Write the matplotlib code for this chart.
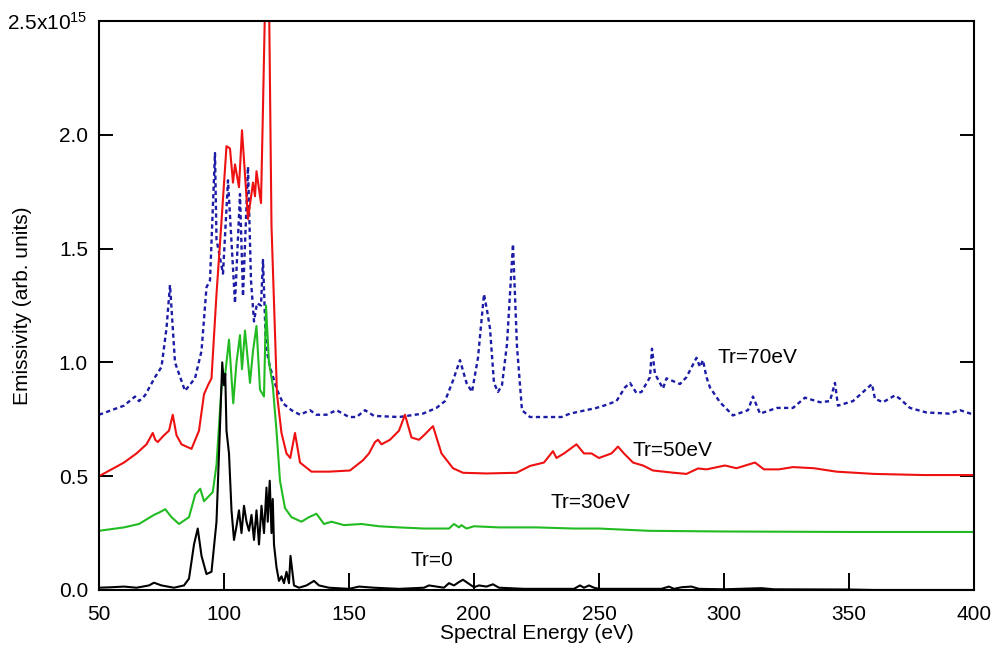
import matplotlib
matplotlib.use("Agg")
import matplotlib.pyplot as plt

plt.rcParams["font.family"] = ["Liberation Sans", "DejaVu Sans"]
plt.rcParams["mathtext.fontset"] = "custom"
plt.rcParams["mathtext.rm"] = "Liberation Sans"
plt.rcParams["mathtext.default"] = "regular"

# emissivity in units of 1e15 (arb. units), energy in eV

tr0_e = [50, 55, 60, 65, 70, 72, 75, 80, 84, 86, 88, 89.5, 91, 93, 95, 97, 98.5, 99.3,
         100, 100.5, 101, 102, 103, 104, 105, 106, 107, 108, 109, 110, 111, 112, 113,
         114, 115, 116, 117, 117.5, 118.3, 119, 119.5, 120, 121, 122, 123, 124, 125,
         126, 126.6, 128, 130, 133, 136, 138, 142, 150, 154, 160, 170, 180, 182, 185,
         188, 190, 192, 194, 195.6, 197.6, 200, 202, 205, 207.6, 210, 220, 240, 242.4,
         244, 246, 248, 250, 260, 275, 278, 280, 283, 287, 290, 300, 315, 320, 350,
         360, 380, 400]
tr0_y = [0.01, 0.012, 0.015, 0.01, 0.02, 0.032, 0.02, 0.01, 0.02, 0.05, 0.2, 0.27, 0.15,
         0.07, 0.08, 0.3, 0.75, 1.0, 0.9, 0.95, 0.7, 0.6, 0.35, 0.22, 0.28, 0.35, 0.25,
         0.37, 0.3, 0.26, 0.33, 0.22, 0.35, 0.2, 0.37, 0.25, 0.45, 0.3, 0.48, 0.25, 0.4,
         0.2, 0.1, 0.04, 0.06, 0.03, 0.08, 0.03, 0.15, 0.02, 0.01, 0.02, 0.04, 0.02,
         0.01, 0.005, 0.015, 0.01, 0.005, 0.01, 0.02, 0.015, 0.01, 0.03, 0.02, 0.035,
         0.045, 0.03, 0.012, 0.02, 0.015, 0.025, 0.01, 0.005, 0.005, 0.02, 0.01, 0.02,
         0.01, 0.005, 0.005, 0.005, 0.015, 0.005, 0.012, 0.015, 0.005, 0.003, 0.008,
         0.003, 0.002, 0.0, 0.0, 0.0]

tr30_e = [50, 60, 66, 72, 74, 76.5, 79, 82, 86, 88.5, 90.5, 92, 95.5, 97, 99, 100.5,
          102, 103.7, 105, 106.4, 107.2, 108.4, 110.4, 111.6, 113, 114.4, 116, 116.8,
          118, 119.5, 121, 122.4, 124.4, 127, 131, 134, 137, 140, 143, 148, 155, 162,
          170, 180, 190, 192, 194, 195, 197, 200, 210, 225, 240, 250, 260, 270, 300,
          350, 400]
tr30_y = [0.26, 0.275, 0.29, 0.33, 0.34, 0.355, 0.32, 0.29, 0.32, 0.42, 0.445, 0.39,
          0.43, 0.55, 0.89, 0.95, 1.1, 0.82, 1.0, 1.12, 0.97, 1.14, 0.91, 1.05, 1.16,
          0.88, 0.85, 1.25, 1.0, 0.9, 0.7, 0.48, 0.36, 0.32, 0.3, 0.32, 0.335, 0.29,
          0.3, 0.285, 0.29, 0.28, 0.275, 0.27, 0.27, 0.29, 0.275, 0.285, 0.27, 0.28,
          0.275, 0.275, 0.27, 0.27, 0.265, 0.26, 0.257, 0.255, 0.255]

tr50_e = [50, 55, 60, 65, 69, 71.5, 72.5, 73.5, 76, 78, 79.5, 81, 83, 87, 90, 92, 93.6,
          95, 97, 99, 101, 102.4, 103.6, 104.4, 106, 107.2, 109.6, 111.6, 112.4, 113,
          114.8, 115.6, 116.5, 118, 119, 121.2, 123, 125, 126.5, 128.4, 130.4, 135, 142,
          150.4, 155.6, 158, 160.4, 161.6, 163, 166.4, 170, 172.4, 175, 178, 180, 183.6,
          187, 191.6, 195.6, 205, 217, 222.4, 228, 231.6, 233, 236, 241, 244, 247, 250,
          255, 257.6, 260, 263.6, 267.6, 271.6, 280, 285, 289.6, 293, 300.4, 305, 312.4,
          316, 322, 327.6, 336, 345, 360, 380, 400]
tr50_y = [0.5, 0.53, 0.56, 0.6, 0.64, 0.69, 0.66, 0.65, 0.68, 0.7, 0.77, 0.68, 0.64,
          0.62, 0.7, 0.86, 0.9, 0.93, 1.3, 1.62, 1.95, 1.94, 1.79, 1.87, 1.77, 2.02,
          1.63, 1.79, 1.73, 1.84, 1.7, 2.12, 2.62, 2.62, 1.6, 0.86, 0.69, 0.6, 0.58,
          0.69, 0.56, 0.52, 0.52, 0.525, 0.57, 0.6, 0.65, 0.66, 0.64, 0.66, 0.7, 0.77,
          0.67, 0.66, 0.68, 0.72, 0.6, 0.535, 0.515, 0.512, 0.515, 0.545, 0.56, 0.61,
          0.58, 0.6, 0.64, 0.6, 0.6, 0.58, 0.6, 0.63, 0.6, 0.56, 0.547, 0.525, 0.515,
          0.51, 0.534, 0.53, 0.547, 0.535, 0.56, 0.53, 0.53, 0.54, 0.535, 0.52, 0.51,
          0.505, 0.505]

tr70_e = [50, 55, 60, 64.4, 66, 68.4, 72.4, 75, 77, 78.4, 80.4, 84.4, 88.4, 91, 93,
          94.4, 96.4, 97, 99.6, 101.6, 104.4, 106.4, 107.6, 109.6, 110.8, 112, 113.2,
          114.8, 115.6, 116.8, 118.4, 121.2, 123.6, 127, 130.4, 134.4, 137, 141, 145,
          150, 153, 156.4, 160, 170, 179.6, 185, 188.4, 191.6, 194.4, 197, 199.2, 201.6,
          204, 205.2, 206.4, 208, 209.6, 211.2, 213.2, 215.6, 217.2, 219.2, 222.4, 235,
          238.4, 249, 252, 257, 260.4, 262.4, 265, 267, 270.4, 271.2, 272.4, 275.6, 277,
          282.4, 285, 289, 290.4, 291.6, 293, 294.4, 298.4, 303.6, 309.6, 311.6, 314.4,
          321.2, 327.6, 332.4, 338.4, 342.4, 344.4, 345.6, 351.6, 359.2, 360.4, 363.6,
          368.4, 370.4, 374.4, 381, 390, 394.4, 400]
tr70_y = [0.77, 0.79, 0.81, 0.85, 0.83, 0.855, 0.935, 0.98, 1.15, 1.34, 1.0, 0.875,
          0.93, 1.05, 1.33, 1.36, 1.92, 1.54, 1.39, 1.8, 1.26, 1.74, 1.29, 1.86, 1.36,
          1.18, 1.26, 1.25, 1.45, 1.065, 0.98, 0.88, 0.82, 0.79, 0.77, 0.79, 0.77, 0.77,
          0.79, 0.76, 0.76, 0.79, 0.765, 0.76, 0.775, 0.8, 0.83, 0.92, 1.01, 0.91, 0.87,
          1.02, 1.3, 1.23, 1.15, 0.91, 0.87, 0.9, 1.08, 1.52, 1.07, 0.79, 0.76, 0.76,
          0.775, 0.8, 0.81, 0.83, 0.89, 0.91, 0.865, 0.87, 0.935, 1.06, 0.95, 0.885,
          0.93, 0.905, 0.935, 1.02, 0.98, 1.01, 0.935, 0.89, 0.825, 0.767, 0.79, 0.85,
          0.775, 0.8, 0.8, 0.845, 0.825, 0.83, 0.91, 0.81, 0.83, 0.905, 0.84, 0.825,
          0.855, 0.84, 0.8, 0.78, 0.775, 0.79, 0.77]

curve_labels = ["Tr=0", "Tr=30eV", "Tr=50eV", "Tr=70eV"]
label_e = [174.5, 230.5, 263.5, 297.5]
label_y = [0.13, 0.385, 0.615, 1.02]

yticks = [0.0, 0.5, 1.0, 1.5, 2.0, 2.5]
ytick_labels = ["0.0", "0.5", "1.0", "1.5", "2.0", "2.5x10$^{15}$"]
xticks = [50, 100, 150, 200, 250, 300, 350, 400]

fig = plt.figure(figsize=(9.91, 6.53), dpi=100)
ax = fig.add_axes([0.0999, 0.0965, 0.8829, 0.8713])

ax.plot(tr70_e, tr70_y, color="#1c1ca6", lw=1.7, linestyle=(0, (1.8, 1.4)))
ax.plot(tr50_e, tr50_y, color="#ee1111", lw=1.5)
ax.plot(tr30_e, tr30_y, color="#22bb22", lw=1.5)
ax.plot(tr0_e, tr0_y, color="black", lw=1.5)

for txt, xe, ye in zip(curve_labels, label_e, label_y):
    ax.text(xe, ye, txt, fontsize=15, ha="left", va="center")

ax.set_xlim(50, 400)
ax.set_ylim(0, 2.5)
ax.set_xticks(xticks)
ax.set_xticklabels([str(v) for v in xticks])
ax.set_yticks(yticks)
ax.set_yticklabels(ytick_labels)

for sp in ax.spines.values():
    sp.set_linewidth(1.5)
    sp.set_zorder(5)

ax.tick_params(axis="x", direction="in", length=12, width=1.4, labelsize=15, pad=11)
ax.tick_params(axis="y", direction="in", length=10, width=1.4, labelsize=15, pad=8,
               right=True)

ax.set_xlabel("Spectral Energy (eV)", fontsize=15, labelpad=0)
ax.set_ylabel("Emissivity (arb. units)", fontsize=15)
ax.yaxis.set_label_coords(-0.077, 0.5)

fig.savefig("out.png", dpi=100)
plt.close(fig)
